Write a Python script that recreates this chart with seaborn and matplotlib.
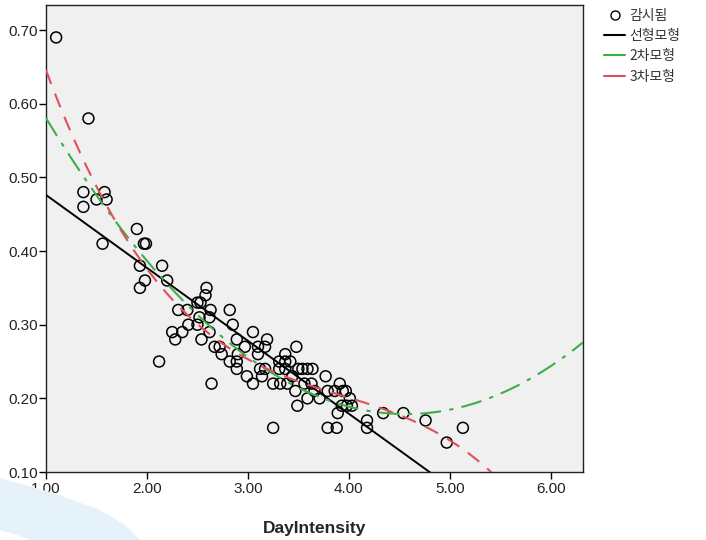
import numpy as np
import pandas as pd
import matplotlib
matplotlib.use("Agg")
import matplotlib.pyplot as plt
import seaborn as sns
from matplotlib.lines import Line2D
from matplotlib.patches import Polygon
from matplotlib import font_manager

# Observed values: DayIntensity vs. response
day_intensity = [
    1.10, 1.42, 1.37, 1.37, 1.50, 1.58, 1.60, 1.56, 1.90, 1.97,
    1.99, 1.93, 2.15, 1.93, 1.98, 2.20, 2.12, 2.59, 2.58, 2.50,
    2.53, 2.31, 2.40, 2.63, 2.82, 2.52, 2.62, 2.41, 2.50, 2.25,
    2.35, 2.28, 2.54, 2.62, 2.85, 3.05, 2.89, 3.19, 2.67, 2.72,
    2.97, 3.10, 3.17, 3.48, 2.74, 2.90, 3.10, 3.37, 2.82, 2.89,
    3.31, 3.37, 3.42, 2.89, 3.12, 3.17, 3.31, 3.37, 3.50, 3.54,
    3.59, 3.64, 2.99, 3.14, 3.44, 3.77, 3.05, 2.64, 3.25, 3.32,
    3.39, 3.56, 3.63, 3.66, 3.47, 3.59, 3.71, 3.79, 3.86, 3.91,
    3.94, 4.01, 3.97, 3.93, 3.98, 4.03, 3.89, 3.49, 3.25, 3.79,
    3.88, 4.18, 4.18, 4.34, 4.54, 4.76, 4.97, 5.13,
]
observed = [
    0.69, 0.58, 0.48, 0.46, 0.47, 0.48, 0.47, 0.41, 0.43, 0.41,
    0.41, 0.38, 0.38, 0.35, 0.36, 0.36, 0.25, 0.35, 0.34, 0.33,
    0.33, 0.32, 0.32, 0.32, 0.32, 0.31, 0.31, 0.30, 0.30, 0.29,
    0.29, 0.28, 0.28, 0.29, 0.30, 0.29, 0.28, 0.28, 0.27, 0.27,
    0.27, 0.27, 0.27, 0.27, 0.26, 0.26, 0.26, 0.26, 0.25, 0.25,
    0.25, 0.25, 0.25, 0.24, 0.24, 0.24, 0.24, 0.24, 0.24, 0.24,
    0.24, 0.24, 0.23, 0.23, 0.23, 0.23, 0.22, 0.22, 0.22, 0.22,
    0.22, 0.22, 0.22, 0.21, 0.21, 0.20, 0.20, 0.21, 0.21, 0.22,
    0.21, 0.20, 0.21, 0.19, 0.19, 0.19, 0.18, 0.19, 0.16, 0.16,
    0.16, 0.17, 0.16, 0.18, 0.18, 0.17, 0.14, 0.16,
]

x_ticks = [1.0, 2.0, 3.0, 4.0, 5.0, 6.0]
y_ticks = [0.10, 0.20, 0.30, 0.40, 0.50, 0.60, 0.70]
legend_labels = ["감시됨", "선형모형", "2차모형", "3차모형"]

df = pd.DataFrame({"DayIntensity": day_intensity, "y": observed})

sns.set_theme(style="white")
installed = {f.name for f in font_manager.fontManager.ttflist}
tick_family = ["Liberation Sans Narrow"] if "Liberation Sans Narrow" in installed else ["Liberation Sans"]
plt.rcParams["font.family"] = ["Liberation Sans", "Noto Sans CJK KR", "DejaVu Sans"]

fig = plt.figure(figsize=(7.06, 5.40), dpi=100)

# faint blue swoosh in the lower-left corner of the page
swoosh = Polygon([(0, 62), (50, 48), (100, 30), (125, 15), (140, 0),
                  (30, 0), (15, 6), (0, 10)],
                 closed=True, transform=None, facecolor="#e6f2fa",
                 edgecolor="none", zorder=0)
fig.patches.append(swoosh)

ax = fig.add_axes([0.0652, 0.1259, 0.7606, 0.8648])
ax.set_facecolor("#f0f0f0")

sns.scatterplot(data=df, x="DayIntensity", y="y", ax=ax, s=62,
                facecolor="none", edgecolor="black", linewidth=1.1,
                legend=False, zorder=3)

# Curve estimation: linear, quadratic and cubic least-squares models
xs = np.linspace(1.0, 6.32, 400)
c1 = np.polyfit(day_intensity, observed, 1)
c2 = np.polyfit(day_intensity, observed, 2)
c3 = np.polyfit(day_intensity, observed, 3)

green = "#3dae49"
red = "#e0505a"
ax.plot(xs, np.polyval(c1, xs), color="black", lw=1.4, zorder=4)
ax.plot(xs, np.polyval(c2, xs), color=green, lw=1.5,
        dashes=[10, 4, 2, 4], zorder=4)
ax.plot(xs, np.polyval(c3, xs), color=red, lw=1.5,
        dashes=[7, 5], zorder=4)

ax.set_xlim(1.0, 6.32)
ax.set_ylim(0.10, 0.734)
ax.set_xticks(x_ticks)
ax.set_xticklabels([f"{v:.2f}" for v in x_ticks], family=tick_family)
ax.set_yticks(y_ticks)
ax.set_yticklabels([f"{v:.2f}" for v in y_ticks], family=tick_family)
ax.tick_params(axis="x", direction="out", length=5, width=1,
               color="black", labelsize=11, labelcolor="#222222", pad=2)
ax.tick_params(axis="y", direction="out", length=5, width=1,
               color="black", labelsize=11, labelcolor="#222222", pad=1)
ax.tick_params(axis="both", which="both", bottom=True, left=True)
for sp in ax.spines.values():
    sp.set_color("#222222")
    sp.set_linewidth(1.0)

ax.set_xlabel("DayIntensity", fontsize=12.5, fontweight="bold", labelpad=18)
ax.set_ylabel("")

handles = [
    Line2D([], [], marker="o", linestyle="none", markerfacecolor="none",
           markeredgecolor="black", markersize=6.5),
    Line2D([], [], color="black", lw=1.5),
    Line2D([], [], color=green, lw=1.5),
    Line2D([], [], color=red, lw=1.5),
]
leg = fig.legend(handles, legend_labels, loc="upper left",
                 bbox_to_anchor=(0.848, 0.994), frameon=False,
                 prop={"family": ["Noto Sans CJK KR", "DejaVu Sans"], "size": 10},
                 handlelength=1.5, handletextpad=0.3, labelspacing=0.45,
                 borderaxespad=0.0)
for t in leg.get_texts():
    t.set_color("#333333")

fig.savefig("out.png", dpi=100)
